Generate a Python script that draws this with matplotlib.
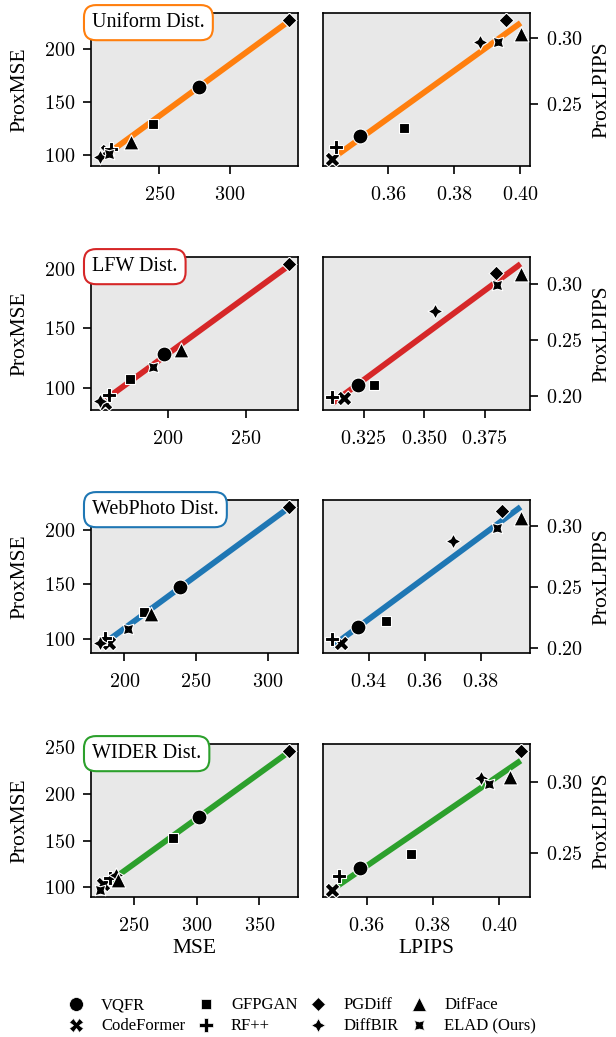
import matplotlib
matplotlib.use("Agg")
import matplotlib.pyplot as plt
from matplotlib.lines import Line2D
from matplotlib.ticker import MultipleLocator
import numpy as np

plt.rcParams['font.family'] = ['Liberation Serif', 'DejaVu Serif']
plt.rcParams['axes.formatter.use_mathtext'] = True

methods = ['VQFR', 'CodeFormer', 'GFPGAN', 'RF++', 'PGDiff', 'DiffBIR', 'DifFace', 'ELAD (Ours)']
markers = ['o', 'X', (4, 0, 45), 'P', (4, 0, 0), (4, 1, 0), '^', (4, 1, 45)]

dists = ['Uniform Dist.', 'LFW Dist.', 'WebPhoto Dist.', 'WIDER Dist.']
colors = ['#ff7f0e', '#d62728', '#1f77b4', '#2ca02c']

# MSE / ProxMSE per distribution, in the order of `methods`
mse = [
    [277.8, 213.0, 245.5, 216.0, 341.6, 208.3, 229.9, 214.7],
    [197.9, 160.0, 175.6, 162.5, 277.1, 157.0, 208.6, 190.3],
    [238.8, 189.2, 213.9, 186.9, 314.5, 183.4, 218.5, 202.5],
    [302.1, 226.0, 281.6, 231.0, 373.1, 236.0, 237.4, 223.7],
]
prox_mse = [
    [164.2, 104.0, 129.7, 106.0, 227.5, 98.7, 112.5, 101.2],
    [128.6, 87.2, 107.7, 94.3, 204.3, 88.6, 131.5, 117.7],
    [147.9, 96.3, 124.3, 100.4, 221.1, 95.7, 122.5, 108.7],
    [175.4, 104.0, 152.5, 110.0, 246.0, 113.0, 108.0, 97.1],
]
# LPIPS / ProxLPIPS
lpips = [
    [0.3516, 0.3431, 0.3647, 0.3441, 0.3956, 0.3878, 0.4001, 0.3932],
    [0.3225, 0.3167, 0.3294, 0.3120, 0.3797, 0.3546, 0.3899, 0.3801],
    [0.3361, 0.3299, 0.3463, 0.3270, 0.3877, 0.3702, 0.3942, 0.3857],
    [0.3580, 0.3496, 0.3735, 0.3517, 0.4065, 0.3944, 0.4032, 0.3969],
]
prox_lpips = [
    [0.2255, 0.2078, 0.2313, 0.2167, 0.3139, 0.2972, 0.3035, 0.2970],
    [0.2096, 0.1982, 0.2096, 0.1991, 0.3099, 0.2763, 0.3090, 0.2994],
    [0.2177, 0.2046, 0.2223, 0.2074, 0.3118, 0.2873, 0.3065, 0.2979],
    [0.2395, 0.2241, 0.2497, 0.2337, 0.3216, 0.3024, 0.3030, 0.2982],
]

mse_step = [50, 50, 50, 50]
lpips_step = [0.02, 0.025, 0.02, 0.02]

fig = plt.figure(figsize=(6.16, 10.37), dpi=100)

lefts = [91 / 616, 323 / 616]
bottoms = [1 - 166 / 1037, 1 - 410 / 1037, 1 - 653 / 1037, 1 - 897 / 1037]
w, h = 207 / 616, 153 / 1037


def panel(ax, xs, ys, color, xstep, ystep):
    ax.set_facecolor('#e8e8e8')
    xs = np.array(xs)
    ys = np.array(ys)
    # linear fit
    k, b = np.polyfit(xs, ys, 1)
    xx = np.array([xs.min(), xs.max()])
    ax.plot(xx, k * xx + b, color=color, lw=4.2, zorder=2, solid_capstyle='butt')
    for i in range(len(xs)):
        ax.scatter(xs[i], ys[i], marker=markers[i], s=115, c='black',
                   edgecolors='white', linewidths=0.8, zorder=3)
    ax.xaxis.set_major_locator(MultipleLocator(xstep))
    ax.yaxis.set_major_locator(MultipleLocator(ystep))
    for sp in ax.spines.values():
        sp.set_linewidth(1.2)
    ax.tick_params(direction='out', length=5.5, width=1.2, pad=6,
                   labelsize=14.5, labelfontfamily='cmr10')
    ax.tick_params(axis='x', pad=9)


for r in range(4):
    axl = fig.add_axes([lefts[0], bottoms[r], w, h])
    panel(axl, mse[r], prox_mse[r], colors[r], mse_step[r], 50)
    axl.set_ylabel('ProxMSE', fontsize=15.5, labelpad=10)
    axl.text(0.005, 0.937, dists[r], transform=axl.transAxes, fontsize=14.5,
             ha='left', va='center', zorder=10, clip_on=False,
             bbox=dict(boxstyle='round,pad=0.4,rounding_size=0.6', fc='white',
                       ec=colors[r], lw=1.5))

    axr = fig.add_axes([lefts[1], bottoms[r], w, h])
    panel(axr, lpips[r], prox_lpips[r], colors[r], lpips_step[r], 0.05)
    axr.yaxis.tick_right()
    axr.yaxis.set_label_position('right')
    axr.set_ylabel('ProxLPIPS', fontsize=15.5, labelpad=7)

    if r == 3:
        axl.set_xlabel('MSE', fontsize=15.5, labelpad=3)
        axr.set_xlabel('LPIPS', fontsize=15.5, labelpad=3)

handles = [Line2D([], [], ls='none', marker=markers[i], color='black',
                  markersize=10, markeredgecolor='white', markeredgewidth=0.5)
           for i in range(len(methods))]
fig.legend(handles, methods, loc='lower center', bbox_to_anchor=(0.49, -0.012),
           ncol=4, frameon=False, fontsize=12, handlelength=1.0,
           handletextpad=1.0, columnspacing=0.75, labelspacing=0.3)

fig.savefig('out.png', dpi=100)
